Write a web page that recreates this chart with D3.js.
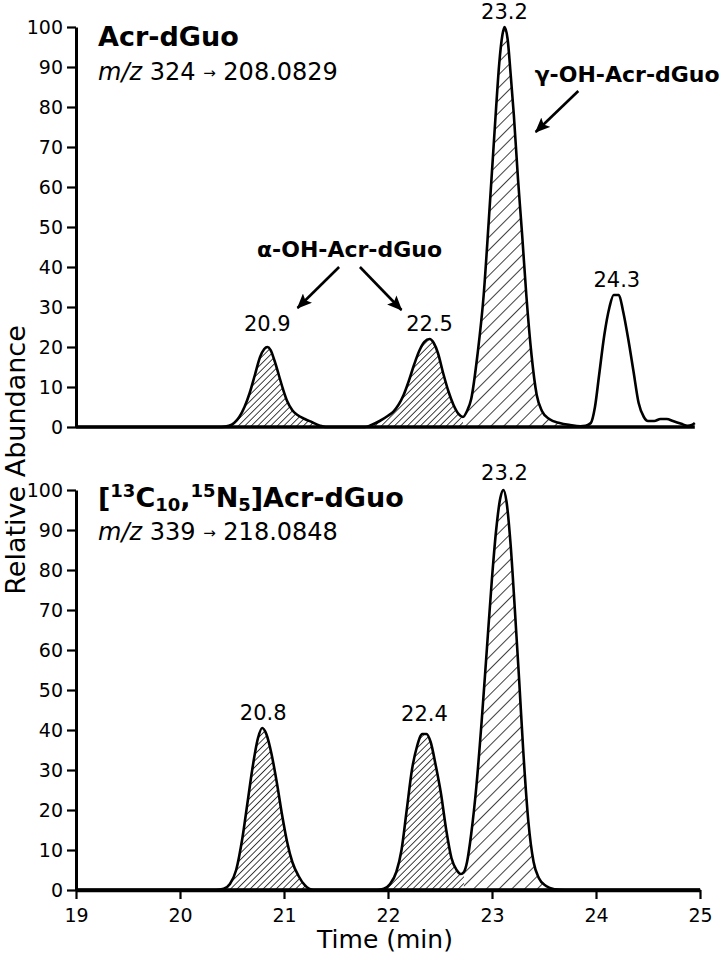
<!doctype html>
<html>

<head>
    <meta charset="UTF-8">
    <title>Acr-dGuo chromatogram</title>
    <script src="https://cdn.jsdelivr.net/npm/d3@7"></script>
    <style>
        body { margin: 0; background: #fff; }
        text { font-family: "DejaVu Sans", sans-serif; fill: #000; }
    </style>
</head>

<body>
    <svg id="chart" width="725" height="960"></svg>
    <script>
        // ---- data (time in min, relative abundance in %) ----
        var topTrace = [
            [19.00, 0], [20.40, 0], [20.47, 0.3], [20.52, 1], [20.57, 2.5], [20.62, 5], [20.67, 8.5], [20.72, 13],
            [20.77, 17.5], [20.81, 19.5], [20.84, 20], [20.87, 19.3], [20.91, 16.5], [20.95, 13], [20.99, 9.5],
            [21.03, 6.5], [21.08, 4.2], [21.13, 3], [21.20, 2], [21.27, 1.2], [21.34, 0.4], [21.40, 0],
            [21.78, 0], [21.84, 0.5], [21.92, 1.5], [22.00, 2.8], [22.05, 3.8], [22.10, 5.5], [22.15, 8], [22.20, 11.5],
            [22.25, 15.5], [22.30, 19], [22.35, 21.3], [22.40, 22], [22.44, 21], [22.48, 18.5], [22.53, 13.5],
            [22.58, 9], [22.63, 5.5], [22.68, 3.2], [22.72, 2.5],
            [22.76, 4], [22.80, 7], [22.86, 18], [22.92, 33], [22.97, 52], [23.01, 68], [23.04, 80], [23.07, 91],
            [23.10, 98], [23.12, 100], [23.15, 97], [23.18, 88], [23.21, 78], [23.25, 62], [23.29, 48], [23.33, 33],
            [23.38, 18], [23.43, 8], [23.48, 4], [23.55, 2], [23.65, 1], [23.75, 0.5], [23.85, 0.2], [23.90, 0.3],
            [23.95, 1], [23.99, 5], [24.03, 13], [24.08, 23], [24.13, 30], [24.17, 33], [24.22, 33], [24.26, 29],
            [24.31, 22], [24.36, 14], [24.41, 6], [24.46, 2.5], [24.50, 1.5], [24.56, 1.5], [24.62, 2], [24.68, 2],
            [24.74, 1.5], [24.82, 0.8], [24.88, 0.3], [24.92, 0.5], [24.95, 1]
        ];
        var botTrace = [
            [19.00, 0], [20.35, 0], [20.42, 0.3], [20.48, 1.5], [20.54, 5], [20.60, 13], [20.65, 22], [20.70, 31],
            [20.75, 38], [20.79, 40.5], [20.83, 39], [20.88, 34], [20.93, 27], [20.98, 19], [21.03, 12], [21.08, 7],
            [21.14, 3.5], [21.20, 1.2], [21.28, 0],
            [21.90, 0], [21.96, 0.3], [22.02, 1.5], [22.08, 4.5], [22.13, 10], [22.18, 20], [22.23, 30], [22.28, 36],
            [22.33, 39], [22.37, 39], [22.41, 37], [22.46, 31], [22.51, 24], [22.56, 15], [22.61, 8], [22.66, 5],
            [22.70, 4], [22.73, 4.5], [22.76, 7], [22.80, 14], [22.85, 26], [22.90, 42], [22.95, 60], [23.00, 78],
            [23.04, 90], [23.08, 98], [23.11, 100], [23.14, 97], [23.18, 86], [23.22, 70], [23.26, 53], [23.30, 35],
            [23.35, 17], [23.40, 7], [23.45, 3], [23.52, 1], [23.60, 0.2], [23.70, 0], [25.00, 0]
        ];

        // integrated (hatched) peak windows: start, end, hatch kind
        var topHatch = [[20.40, 21.40, "dense"], [21.78, 22.72, "dense"], [22.72, 23.92, "sparse"]];
        var botHatch = [[20.35, 21.28, "dense"], [21.90, 22.73, "dense"], [22.73, 23.70, "sparse"]];

        // peak labels
        var topLabels = ["20.9", "22.5", "23.2", "24.3"];
        var topLabelTime = [20.84, 22.40, 23.12, 24.20];
        var topLabelValue = [20, 22, 100, 33];
        var botLabels = ["20.8", "22.4", "23.2"];
        var botLabelTime = [20.80, 22.35, 23.12];
        var botLabelValue = [40.5, 39, 100];

        var xTicks = [19, 20, 21, 22, 23, 24, 25];
        var yTicks = [0, 10, 20, 30, 40, 50, 60, 70, 80, 90, 100];

        // ---- layout ----
        var svg = d3.select("#chart");
        var x = d3.scaleLinear().domain([19, 25]).range([76, 700]);
        var yTop = d3.scaleLinear().domain([0, 100]).range([427, 27]);
        var yBot = d3.scaleLinear().domain([0, 100]).range([890, 490]);

        var defs = svg.append("defs");
        makeHatch("dense", 4.6);
        makeHatch("sparse", 9);
        defs.append("marker")
            .attr("id", "arrowHead")
            .attr("markerUnits", "userSpaceOnUse")
            .attr("viewBox", "0 0 15 13")
            .attr("refX", 14).attr("refY", 6.5)
            .attr("markerWidth", 15).attr("markerHeight", 13)
            .attr("orient", "auto")
            .append("path").attr("d", "M0,0 L15,6.5 L0,13 L3,6.5 z").attr("fill", "#000");

        function makeHatch(id, gap) {
            defs.append("pattern")
                .attr("id", "hatch-" + id)
                .attr("patternUnits", "userSpaceOnUse")
                .attr("width", gap).attr("height", gap)
                .attr("patternTransform", "rotate(45)")
                .append("line")
                .attr("x1", 0).attr("y1", 0).attr("x2", 0).attr("y2", gap)
                .attr("stroke", "#000").attr("stroke-width", 1.5);
        }

        function panel(name, trace, hatch, y, lastTime) {
            var g = svg.append("g").attr("class", name);
            var area = d3.area().curve(d3.curveMonotoneX)
                .x(function (d) { return x(d[0]); })
                .y0(y(0))
                .y1(function (d) { return y(d[1]); });
            var line = d3.line().curve(d3.curveMonotoneX)
                .x(function (d) { return x(d[0]); })
                .y(function (d) { return y(d[1]); });

            hatch.forEach(function (h, i) {
                var cid = name + "-clip-" + i;
                defs.append("clipPath").attr("id", cid)
                    .append("rect")
                    .attr("x", x(h[0])).attr("width", x(h[1]) - x(h[0]))
                    .attr("y", y(100) - 10).attr("height", y(0) - y(100) + 10);
                g.append("path")
                    .datum(trace)
                    .attr("d", area)
                    .attr("fill", "url(#hatch-" + h[2] + ")")
                    .attr("clip-path", "url(#" + cid + ")");
            });

            // baseline
            g.append("line")
                .attr("x1", x(19)).attr("x2", x(lastTime))
                .attr("y1", y(0)).attr("y2", y(0))
                .attr("stroke", "#000").attr("stroke-width", 3.5);

            g.append("path")
                .datum(trace)
                .attr("d", line)
                .attr("fill", "none")
                .attr("stroke", "#000")
                .attr("stroke-width", 2.6)
                .attr("stroke-linejoin", "round");

            var yAxis = g.append("g")
                .attr("transform", "translate(" + x(19) + ",0)")
                .call(d3.axisLeft(y).tickValues(yTicks).tickSize(9).tickSizeOuter(0).tickPadding(4));
            yAxis.select(".domain").attr("stroke-width", 3);
            yAxis.selectAll(".tick line").attr("stroke-width", 2.2);
            yAxis.selectAll(".tick text")
                .attr("font-size", 19)
                .attr("font-family", "DejaVu Sans, sans-serif")
                .attr("fill", "#000");
            return g;
        }

        var gTop = panel("top", topTrace, topHatch, yTop, 24.95);
        var gBot = panel("bot", botTrace, botHatch, yBot, 25);

        // bottom x axis
        var xAxis = svg.append("g")
            .attr("transform", "translate(0," + yBot(0) + ")")
            .call(d3.axisBottom(x).tickValues(xTicks).tickFormat(d3.format("d"))
                .tickSize(9).tickSizeOuter(0).tickPadding(10));
        xAxis.select(".domain").attr("stroke-width", 3.5);
        xAxis.selectAll(".tick line").attr("stroke-width", 2.2);
        xAxis.selectAll(".tick text")
            .attr("font-size", 19)
            .attr("font-family", "DejaVu Sans, sans-serif")
            .attr("fill", "#000");

        // axis titles
        svg.append("text")
            .attr("x", 385).attr("y", 948)
            .attr("text-anchor", "middle")
            .attr("font-size", 25)
            .text("Time (min)");
        svg.append("text")
            .attr("transform", "translate(25,460) rotate(-90)")
            .attr("text-anchor", "middle")
            .attr("font-size", 27)
            .text("Relative Abundance");

        // peak labels
        function peakLabels(g, labels, times, values, y, gaps) {
            labels.forEach(function (lab, i) {
                g.append("text")
                    .attr("x", x(times[i]))
                    .attr("y", y(values[i]) - gaps[i])
                    .attr("text-anchor", "middle")
                    .attr("font-size", 21)
                    .text(lab);
            });
        }
        peakLabels(gTop, topLabels, topLabelTime, topLabelValue, yTop, [16, 8, 8, 8]);
        peakLabels(gBot, botLabels, botLabelTime, botLabelValue, yBot, [8, 13, 10]);

        // panel titles
        gTop.append("text")
            .attr("x", 98).attr("y", yTop(100) + 19)
            .attr("font-size", 27).attr("font-weight", "bold")
            .text("Acr-dGuo");
        var mz1 = gTop.append("text")
            .attr("x", 98).attr("y", yTop(100) + 53)
            .attr("font-size", 24);
        mz1.append("tspan").attr("font-style", "italic").text("m/z");
        mz1.append("tspan").text(" 324 ");
        mz1.append("tspan").attr("font-size", 15).attr("dy", -2).text("→");
        mz1.append("tspan").attr("dy", 2).text(" 208.0829");

        var t2 = gBot.append("text")
            .attr("x", 98).attr("y", yBot(100) + 17)
            .attr("font-size", 27).attr("font-weight", "bold");
        t2.append("tspan").text("[");
        t2.append("tspan").attr("font-size", 18).attr("dy", -10).text("13");
        t2.append("tspan").attr("dy", 10).text("C");
        t2.append("tspan").attr("font-size", 18).attr("dy", 4).text("10");
        t2.append("tspan").attr("dy", -4).text(",");
        t2.append("tspan").attr("font-size", 18).attr("dy", -10).text("15");
        t2.append("tspan").attr("dy", 10).text("N");
        t2.append("tspan").attr("font-size", 18).attr("dy", 4).text("5");
        t2.append("tspan").attr("dy", -4).text("]Acr-dGuo");
        var mz2 = gBot.append("text")
            .attr("x", 98).attr("y", yBot(100) + 50)
            .attr("font-size", 24);
        mz2.append("tspan").attr("font-style", "italic").text("m/z");
        mz2.append("tspan").text(" 339 ");
        mz2.append("tspan").attr("font-size", 15).attr("dy", -2).text("→");
        mz2.append("tspan").attr("dy", 2).text(" 218.0848");

        // isomer annotations (in data units)
        gTop.append("text")
            .attr("x", x(21.63)).attr("y", yTop(42.5))
            .attr("text-anchor", "middle")
            .attr("font-size", 22).attr("font-weight", "bold")
            .text("α-OH-Acr-dGuo");
        gTop.append("text")
            .attr("x", x(23.41)).attr("y", yTop(86.25))
            .attr("font-size", 22).attr("font-weight", "bold")
            .text("γ-OH-Acr-dGuo");

        var topArrows = [[23.83, 84, 23.42, 73.75], [21.53, 40, 21.13, 29.75], [21.73, 40, 22.13, 29.25]];
        topArrows.forEach(function (a) {
            gTop.append("line")
                .attr("x1", x(a[0])).attr("y1", yTop(a[1]))
                .attr("x2", x(a[2])).attr("y2", yTop(a[3]))
                .attr("stroke", "#000").attr("stroke-width", 2.6)
                .attr("marker-end", "url(#arrowHead)");
        });
    </script>
</body>
</html>
